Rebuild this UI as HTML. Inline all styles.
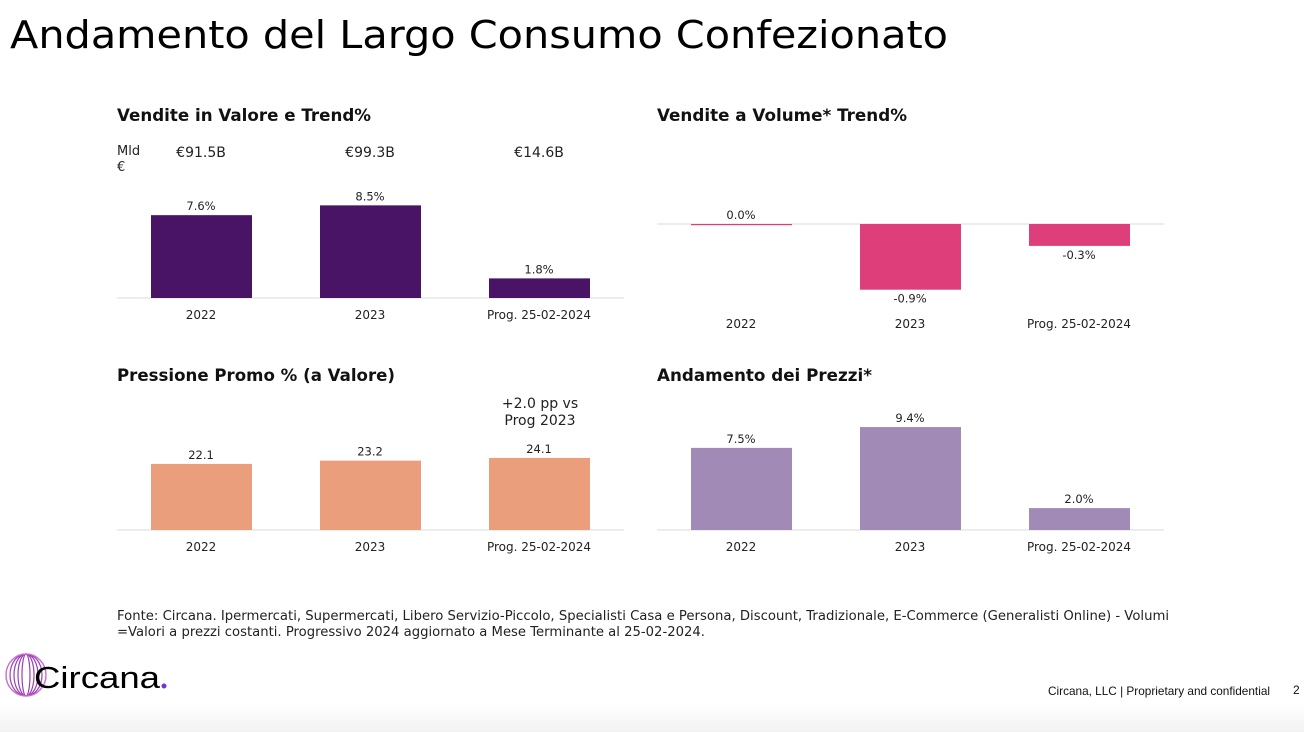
<!DOCTYPE html>
<html><head><meta charset="utf-8"><style>
html,body{margin:0;padding:0;background:#fff;}
svg{display:block;font-family:"DejaVu Sans","Liberation Sans",sans-serif;}
</style></head><body>
<svg id="s" width="1304" height="732" viewBox="0 0 1304 732">
<defs><linearGradient id="bg" x1="0" y1="0" x2="0" y2="1"><stop offset="0" stop-color="#fff"/><stop offset="1" stop-color="#f2f2f2"/></linearGradient></defs>
<rect x="0" y="704" width="1304" height="28" fill="url(#bg)"/>
<text x="10" y="48" font-size="38" fill="#000" textLength="938" lengthAdjust="spacingAndGlyphs">Andamento del Largo Consumo Confezionato</text>

<text x="117" y="121" font-size="16.5" font-weight="bold" fill="#111" textLength="254" lengthAdjust="spacingAndGlyphs">Vendite in Valore e Trend%</text>
<text x="657" y="121" font-size="16.5" font-weight="bold" fill="#111" textLength="250" lengthAdjust="spacingAndGlyphs">Vendite a Volume* Trend%</text>
<text x="117" y="381" font-size="16.5" font-weight="bold" fill="#111" textLength="278" lengthAdjust="spacingAndGlyphs">Pressione Promo % (a Valore)</text>
<text x="657" y="381" font-size="16.5" font-weight="bold" fill="#111" textLength="215" lengthAdjust="spacingAndGlyphs">Andamento dei Prezzi*</text>

<text x="117" y="155" font-size="13" fill="#222">Mld</text>
<text x="117" y="171" font-size="13" fill="#222">€</text>
<g id="totals"></g>

<text x="540" y="408" font-size="14" fill="#222" text-anchor="middle">+2.0 pp vs</text>
<text x="540" y="425" font-size="14" fill="#222" text-anchor="middle">Prog 2023</text>

<g id="charts"></g>

<text x="117" y="620" font-size="13" fill="#222" textLength="1052" lengthAdjust="spacingAndGlyphs">Fonte: Circana. Ipermercati, Supermercati, Libero Servizio-Piccolo, Specialisti Casa e Persona, Discount, Tradizionale, E-Commerce (Generalisti Online) - Volumi</text>
<text x="117" y="636" font-size="13" fill="#222" textLength="588" lengthAdjust="spacingAndGlyphs">=Valori a prezzi costanti. Progressivo 2024 aggiornato a Mese Terminante al 25-02-2024.</text>

<g>
<g fill="none" stroke="#9b3fb5" stroke-width="1.2">
<ellipse cx="26" cy="675" rx="20" ry="21"/><ellipse cx="26" cy="675" rx="16" ry="21"/><ellipse cx="26" cy="675" rx="12" ry="21"/><ellipse cx="26" cy="675" rx="8" ry="21"/><ellipse cx="26" cy="675" rx="4" ry="21"/>
<ellipse cx="26" cy="675" rx="20" ry="21" stroke="#d06fd0"/>
</g>
<text x="34" y="688" font-size="31" fill="#000" font-family="Liberation Sans, sans-serif" textLength="126" lengthAdjust="spacingAndGlyphs">Circana</text>
<circle cx="164" cy="686" r="2.5" fill="#7a2fd0"/>
</g>
<text x="1048" y="695" font-size="12" fill="#111" font-family="Liberation Sans, sans-serif" textLength="222" lengthAdjust="spacingAndGlyphs">Circana, LLC |  Proprietary and confidential</text>
<text x="1293" y="694" font-size="12" fill="#111" font-family="Liberation Sans, sans-serif">2</text>
</svg>
<script>
const categories = ["2022","2023","Prog. 25-02-2024"];
const totalsLabels = ["€91.5B","€99.3B","€14.6B"];
const valueTrend = [7.6, 8.5, 1.8];
const volumeTrend = [0.0, -0.9, -0.3];
const promoPressure = [22.1, 23.2, 24.1];
const priceTrend = [7.5, 9.4, 2.0];

const NS="http://www.w3.org/2000/svg";
const g=document.getElementById('charts');
function mk(tag,attrs,parent){const e=document.createElementNS(NS,tag);for(const k in attrs)e.setAttribute(k,attrs[k]);(parent||g).appendChild(e);return e;}
const totals=document.getElementById('totals');
totalsLabels.forEach((t,i)=>{
  const e=mk('text',{x:201+i*169,y:157,'font-size':14,fill:'#222','text-anchor':'middle'},totals);
  
  
  e.textContent=t;
});
function chart(name,vals,x0,base,scale,color,fmt,catY){
  const grp=mk('g',{});
  
  
  const ax=mk('line',{x1:x0,x2:x0+507,y1:base,y2:base,stroke:'#e2e2e2','stroke-width':1.2},grp);
  
  
  vals.forEach((v,i)=>{
    const cx=x0+84+i*169, h=Math.abs(v)*scale;
    const y=v>=0?base-h:base;
    const r=mk('rect',{x:cx-50,y:y,width:101,height:Math.max(h,1.2),fill:color},grp);
    
    
    const ly=v>=0?base-h-5:base+h+13;
    const l=mk('text',{x:cx,y:ly,'font-size':11.5,fill:'#222','text-anchor':'middle'},grp);
    
    
    l.textContent=fmt(v);
    const c=mk('text',{x:cx,y:catY,'font-size':12,fill:'#222','text-anchor':'middle'},grp);
    
    
    c.textContent=categories[i];
  });
}
const pct=v=>v.toFixed(1)+'%';
chart('value-trend-chart',valueTrend,117,298,10.9,'#4a1466',pct,319);
chart('volume-trend-chart',volumeTrend,657,224,73,'#de3f7a',pct,328);
chart('promo-pressure-chart',promoPressure,117,530,2.99,'#eb9e7c',v=>v.toFixed(1),551);
chart('price-trend-chart',priceTrend,657,530,10.95,'#a28ab7',pct,551);
</script>
</body></html>
